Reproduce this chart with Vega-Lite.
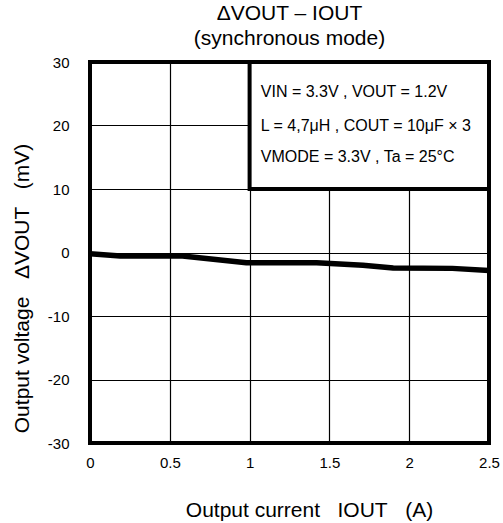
{
  "$schema": "https://vega.github.io/schema/vega-lite/v6.json",
  "width": 399,
  "height": 381,
  "autosize": {"type": "none"},
  "padding": {"left": 90, "top": 62, "right": 14, "bottom": 80},
  "background": "white",
  "title": {
    "text": ["ΔVOUT – IOUT", "(synchronous mode)"],
    "font": "Liberation Sans",
    "fontSize": 21,
    "fontWeight": "normal",
    "color": "black",
    "lineHeight": 25,
    "anchor": "middle",
    "offset": 6
  },
  "config": {
    "font": "Liberation Sans",
    "view": {"stroke": "black", "strokeWidth": 4},
    "axis": {
      "grid": true,
      "gridColor": "black",
      "gridWidth": 1.2,
      "gridOpacity": 1,
      "domain": false,
      "ticks": false,
      "labelFont": "Liberation Sans",
      "labelFontSize": 15,
      "labelColor": "black",
      "titleFont": "Liberation Sans",
      "titleFontSize": 21,
      "titleFontWeight": "normal",
      "titleColor": "black"
    }
  },
  "datasets": {
    "curve": [
      {"iout": 0.0, "dv": -0.2},
      {"iout": 0.19, "dv": -0.55},
      {"iout": 0.58, "dv": -0.55},
      {"iout": 0.98, "dv": -1.6},
      {"iout": 1.42, "dv": -1.6},
      {"iout": 1.71, "dv": -2.0},
      {"iout": 1.9, "dv": -2.45},
      {"iout": 2.27, "dv": -2.5},
      {"iout": 2.5, "dv": -2.85}
    ],
    "box": [{"x1": 1.0, "x2": 2.5, "y1": 10, "y2": 30}],
    "notes": [
      {"x": 1.07, "y": 24.5, "label": "VIN = 3.3V , VOUT = 1.2V"},
      {"x": 1.07, "y": 19.1, "label": "L = 4,7μH , COUT = 10μF × 3"},
      {"x": 1.07, "y": 14.25, "label": "VMODE = 3.3V , Ta = 25°C"}
    ]
  },
  "layer": [
    {
      "data": {"name": "curve"},
      "mark": {"type": "line", "color": "black", "strokeWidth": 5.5, "strokeJoin": "round", "clip": true},
      "encoding": {
        "x": {
          "field": "iout", "type": "quantitative",
          "scale": {"domain": [0, 2.5], "nice": false},
          "axis": {
            "values": [0, 0.5, 1, 1.5, 2, 2.5],
            "labelExpr": "toString(datum.value)",
            "labelPadding": 12,
            "labelFlush": false,
            "title": "Output current\u00a0\u00a0\u00a0IOUT\u00a0\u00a0\u00a0(A)",
            "titleX": 219,
            "titleY": 73,
            "titleBaseline": "alphabetic"
          }
        },
        "y": {
          "field": "dv", "type": "quantitative",
          "scale": {"domain": [-30, 30], "nice": false},
          "axis": {
            "values": [-30, -20, -10, 0, 10, 20, 30],
            "labelExpr": "toString(datum.value)",
            "labelPadding": 21,
            "labelFlush": false,
            "title": "Output voltage\u00a0\u00a0\u00a0ΔVOUT\u00a0\u00a0\u00a0(mV)",
            "titleX": -58,
            "titleY": 226
          }
        }
      }
    },
    {
      "data": {"name": "box"},
      "mark": {"type": "rect", "fill": "white", "stroke": "black", "strokeWidth": 4},
      "encoding": {
        "x": {"field": "x1", "type": "quantitative"},
        "x2": {"field": "x2"},
        "y": {"field": "y1", "type": "quantitative"},
        "y2": {"field": "y2"}
      }
    },
    {
      "data": {"name": "notes"},
      "mark": {"type": "text", "align": "left", "baseline": "alphabetic", "fontSize": 16, "color": "black", "font": "Liberation Sans"},
      "encoding": {
        "x": {"field": "x", "type": "quantitative"},
        "y": {"field": "y", "type": "quantitative"},
        "text": {"field": "label"}
      }
    }
  ]
}
